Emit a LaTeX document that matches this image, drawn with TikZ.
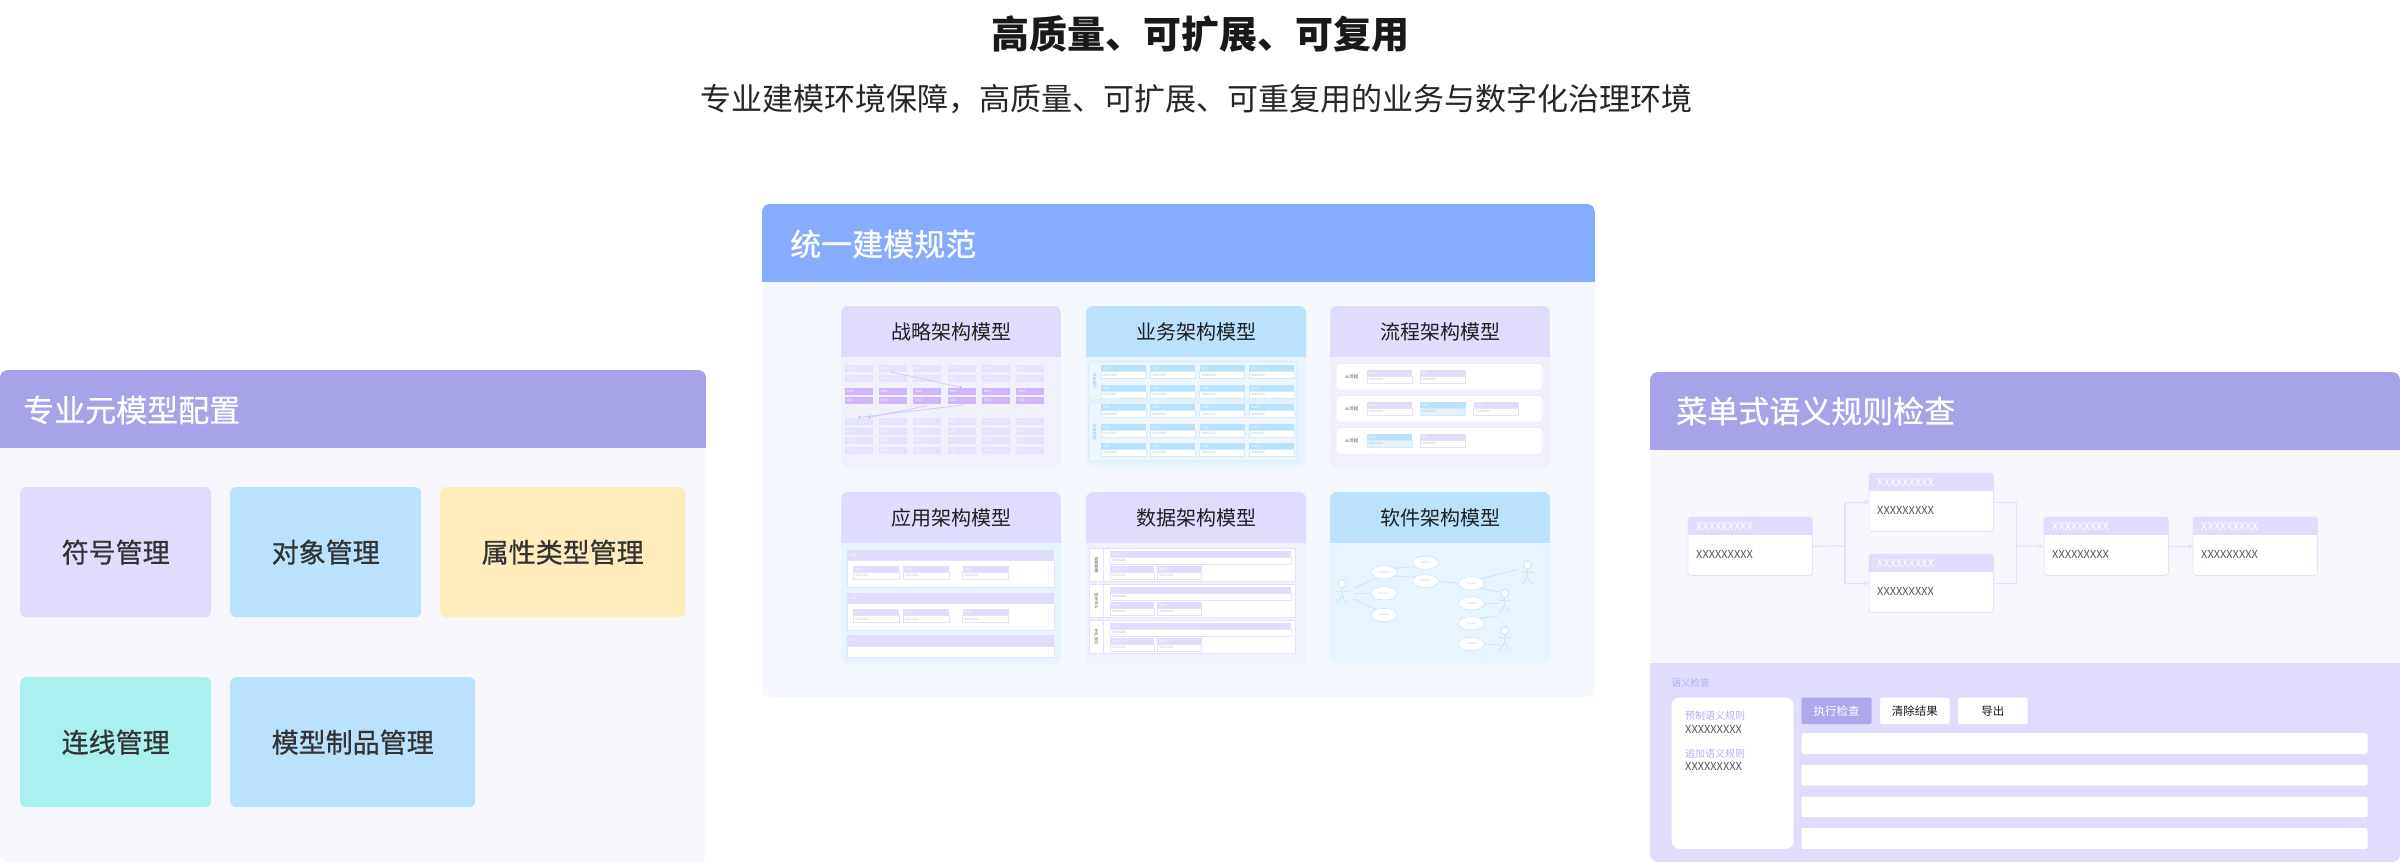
\documentclass[tikz,border=0pt]{standalone}
\usepackage{fontspec}
\setmainfont{Noto Sans CJK SC}
\newfontfamily\medfont[FakeBold=0.7]{Noto Sans CJK SC}
\usetikzlibrary{arrows.meta,shapes.geometric}
\definecolor{hdrpurple}{HTML}{A7A3E9}
\definecolor{hdrblue}{HTML}{86ADFD}
\definecolor{lav}{HTML}{DFDCFE}
\definecolor{skyb}{HTML}{BAE1FE}
\definecolor{yelw}{HTML}{FEEDBA}
\definecolor{mint}{HTML}{A9F1EE}
\definecolor{bodyl}{HTML}{F7F7FD}
\definecolor{bodym}{HTML}{F5F8FE}
\definecolor{cardlav}{HTML}{F1F1FD}
\definecolor{cardblu}{HTML}{E8F4FE}
\definecolor{secblu}{HTML}{EEF7FF}
\definecolor{lightblu}{HTML}{E3F2FE}
\definecolor{edgelav}{HTML}{E4E1FC}
\definecolor{edgeblu}{HTML}{D3EAFD}
\definecolor{cellp}{HTML}{D0B5FA}
\definecolor{celll}{HTML}{E5E2FD}
\definecolor{txtdark}{HTML}{333333}
\definecolor{txtgray}{HTML}{555555}
\definecolor{lbltxt}{HTML}{B3ADF0}
\definecolor{btnp}{HTML}{ADA8EC}
\definecolor{uclinec}{HTML}{CCE7FD}
\definecolor{arrowp}{HTML}{D7C6FA}
\definecolor{dotblu}{HTML}{7FB5F8}
\newcommand\myfs[1]{\fontsize{#1}{#1}\selectfont}
\tikzset{
  hdrtext/.style={font=\medfont\myfs{31}, text=white, anchor=west, inner sep=0pt},
  tile/.style={anchor=north west, rounded corners=6pt, minimum height=130pt, inner sep=0pt, font=\medfont\myfs{27}, text=txtdark},
  cardtitle/.style={font=\myfs{20}, text=black!88, inner sep=0pt},
  tinyt/.style={font=\myfs{3}, inner sep=0pt},
  vlabel/.style={font=\myfs{4}, inner sep=0pt, align=center},
  fbox/.style={rectangle, fill=white, minimum width=124pt, minimum height=58pt, inner sep=0pt, rounded corners=3pt},
  fhdr/.style={anchor=west, font=\myfs{11}, text=white, inner sep=0pt},
  fbody/.style={anchor=west, font=\myfs{11}, text=txtgray, inner sep=0pt},
  fline/.style={draw=edgelav, line width=1.2pt},
  farrow/.style={fline, -{Stealth[length=5pt,width=5pt]}},
  btn/.style={anchor=north west, minimum width=70pt, minimum height=26.7pt, inner sep=0pt, font=\myfs{11.5}, rounded corners=2pt},
  resrow/.style={anchor=north west, fill=white, minimum width=566pt, minimum height=20.7pt, inner sep=0pt, rounded corners=2pt},
  ucase/.style={ellipse, fill=white, draw=uclinec, line width=0.6pt, minimum width=26pt, minimum height=13.3pt, inner sep=0pt, font=\myfs{3}, text=uclinec!70!blue!60!white},
  ucl/.style={draw=uclinec, line width=1pt},
  smallline/.style={draw=arrowp, line width=0.8pt}
}
% card: name, x0, y0, y1, header colour, body colour, title
\newcommand\mcard[7]{%
  \fill[#6, rounded corners=7pt] (#2,#3) rectangle (#2+220,#4);
  \begin{scope}
    \clip[rounded corners=7pt] (#2,#3) rectangle (#2+220,#4);
    \fill[#5] (#2,#3) rectangle (#2+220,#3+51);
  \end{scope}
  \node[cardtitle] (#1) at (#2+110,#3+25.5) {#7};
}
% mini item: x, y, width, header colour, body colour, edge colour
\newcommand\mitem[6]{%
  \fill[#4] (#1,#2) rectangle (#1+#3,#2+6.3);
  \filldraw[fill=#5, draw=#6, line width=0.4pt] (#1,#2+6.3) rectangle (#1+#3,#2+13.3);
  \node[tinyt, text=white, anchor=west] at (#1+2,#2+3.2) {XXXX};
  \node[tinyt, text=#4!75!black!70!white, anchor=west] at (#1+2,#2+9.8) {XXXXXXXX};
}
% actor: x, y of head centre
\newcommand\actor[2]{%
  \draw[ucl, fill=white] (#1,#2) circle (4pt);
  \draw[ucl] (#1,#2+4) -- (#1,#2+12) (#1-6,#2+7) -- (#1+6,#2+7)
    (#1-5,#2+19) -- (#1,#2+12) -- (#1+5,#2+19);
}
% flow box: name, x, y
\newcommand\flowbox[3]{%
  \node[fbox, anchor=north west] (#1) at (#2,#3) {};
  \begin{scope}
    \clip[rounded corners=3pt] (#1.north west) rectangle (#1.south east);
    \fill[lav] (#1.north west) rectangle ([yshift=-18pt]#1.north east);
  \end{scope}
  \draw[edgelav, line width=0.8pt, rounded corners=3pt] (#1.north west) rectangle (#1.south east);
  \node[fhdr] at ([xshift=8pt,yshift=-9pt]#1.north west) {XXXXXXXXX};
  \node[fbody] at ([xshift=8pt,yshift=-37pt]#1.north west) {XXXXXXXXX};
}
\begin{document}
\begin{tikzpicture}[x=1pt, y=-1pt]
\useasboundingbox (0,0) rectangle (2400,863);
\fill[white] (0,0) rectangle (2400,863);

% ---------- titles ----------
\node[font=\myfs{38}\bfseries, text=black!90, inner sep=0pt] (title) at (1200,34) {高质量、可扩展、可复用};
\node[font=\myfs{31}, text=black!85, inner sep=0pt] (subtitle) at (1196,99.5) {专业建模环境保障，高质量、可扩展、可重复用的业务与数字化治理环境};

% ---------- left panel ----------
\fill[bodyl, rounded corners=8pt] (0,370) rectangle (706,862);
\begin{scope}
  \clip[rounded corners=8pt] (0,370) rectangle (706,862);
  \fill[hdrpurple] (0,370) rectangle (706,448);
\end{scope}
\node[hdrtext] (lefthdr) at (23,410) {专业元模型配置};
\node[tile, fill=lav, minimum width=191pt] (fuhao) at (20,487) {符号管理};
\node[tile, fill=skyb, minimum width=191pt] (duixiang) at (230,487) {对象管理};
\node[tile, fill=yelw, minimum width=245pt] (shuxing) at (440,487) {属性类型管理};
\node[tile, fill=mint, minimum width=191pt] (lianxian) at (20,677) {连线管理};
\node[tile, fill=skyb, minimum width=245pt] (zhipin) at (230,677) {模型制品管理};

% ---------- middle panel ----------
\fill[bodym, rounded corners=8pt] (762,204) rectangle (1595,697);
\begin{scope}
  \clip[rounded corners=8pt] (762,204) rectangle (1595,697);
  \fill[hdrblue] (762,204) rectangle (1595,282);
\end{scope}
\node[hdrtext] (midhdr) at (790,244) {统一建模规范};

\mcard{c1}{841}{306}{467}{lav}{cardlav}{战略架构模型}
\mcard{c2}{1086}{306}{467}{skyb}{cardblu}{业务架构模型}
\mcard{c3}{1330}{306}{467}{lav}{cardlav}{流程架构模型}
\mcard{c4}{841}{492}{664}{lav}{cardblu}{应用架构模型}
\mcard{c5}{1086}{492}{664}{lav}{cardlav}{数据架构模型}
\mcard{c6}{1330}{492}{664}{skyb}{cardblu}{软件架构模型}

% card 1: strategy grid
\foreach \yy/\cc in {365.3/celll,374.7/celll,387.7/cellp,397/cellp,418/celll,427.7/celll,437.3/celll,447/celll}{
  \foreach \c in {0,...,5}{
    \fill[\cc] (844.7+\c*34.3,\yy) rectangle ++(28,7);
    \node[tinyt, text=white, anchor=west] at (846.5+\c*34.3,\yy+3.5) {XXXX};
  }
}
\coordinate (s1a) at (890,371.7);
\coordinate (s1b) at (960.7,387.3);
\coordinate (s2a) at (963.3,405);
\coordinate (s2b) at (859.3,417.3);
\coordinate (s3a) at (927.3,405.7);
\coordinate (s3b) at (869.3,417.3);
\draw[smallline] (s1a) -- (s1b);
\draw[smallline] (s2a) -- (s2b);
\draw[smallline] (s3a) -- (s3b);
\fill[dotblu] (s1b) circle (1pt) (s2b) circle (1pt) (s3b) circle (1pt);

% card 2: business grid
\filldraw[fill=secblu, draw=edgeblu, line width=0.6pt, rounded corners=3pt] (1088.7,361.7) rectangle (1297,400);
\filldraw[fill=secblu, draw=edgeblu, line width=0.6pt, rounded corners=3pt] (1088.7,402.7) rectangle (1297,461);
\node[vlabel, text=dotblu] (b2l1) at (1094.5,381) {业\\务\\能\\力};
\node[vlabel, text=dotblu] (b2l2) at (1094.5,432) {业\\务\\流\\程};
\foreach \yy in {365.3,384.7,404.3,423.7,443}{
  \foreach \c in {0,...,3}{
    \mitem{1101+\c*49.3}{\yy}{45}{skyb}{white}{edgeblu}
  }
}

% card 3: process rows
\foreach \yy in {363.3,395.3,427.3}{
  \filldraw[fill=white, draw=edgelav, line width=0.5pt, rounded corners=3pt] (1336,\yy) rectangle (1542,\yy+26.7);
  \node[font=\myfs{4.5}, text=txtgray, inner sep=0pt] at (1351.5,\yy+13.3) {xx流程};
}
\mitem{1367}{370}{45}{lav}{white}{edgelav}
\mitem{1420}{370}{45.5}{lav}{white}{edgelav}
\mitem{1367}{402}{45}{lav}{white}{edgelav}
\mitem{1420}{402}{45.5}{skyb}{lightblu}{edgeblu}
\mitem{1473.5}{402}{45}{lav}{white}{edgelav}
\mitem{1367}{434}{45}{skyb}{lightblu}{edgeblu}
\mitem{1420}{434}{45.5}{lav}{white}{edgelav}

% card 4: application sections
\foreach \ya/\yb/\yc in {550/560/587.7,593.3/603.3/630.7}{
  \fill[lav] (847,\ya) rectangle (1054,\yb);
  \node[tinyt, text=white, anchor=west] at (850,\ya+5) {XXXX};
  \filldraw[fill=white, draw=edgelav, line width=0.5pt] (847,\yb) rectangle (1054,\yc);
  \foreach \xx in {853,903,962.5}{
    \mitem{\xx}{\yb+6}{46}{lav}{white}{edgelav}
  }
}
\fill[lav] (847,635.3) rectangle (1054,646);
\node[tinyt, text=white, anchor=west] at (850,640.6) {XXXX};
\filldraw[fill=white, draw=edgelav, line width=0.5pt] (847,646) rectangle (1054,657.7);

% card 5: data sections
\foreach \yy/\lab in {548.3/{运\\营\\管\\理},584.3/{研\\发\\设\\计},620.3/{生\\产\\运\\行}}{
  \filldraw[fill=white, draw=edgelav, line width=0.5pt] (1089.3,\yy) rectangle (1295.3,\yy+32.7);
  \draw[edgelav, line width=0.5pt] (1103.3,\yy) -- (1103.3,\yy+32.7);
  \node[vlabel, text=txtgray] at (1096.3,\yy+16.3) {\lab};
  \fill[lav] (1110,\yy+2.7) rectangle (1291,\yy+8.7);
  \node[tinyt, text=white, anchor=west] at (1112,\yy+5.7) {XXXX};
  \filldraw[fill=white, draw=edgelav, line width=0.4pt] (1110,\yy+8.7) rectangle (1291,\yy+15.7);
  \node[tinyt, text=lbltxt, anchor=west] at (1112,\yy+12.2) {XXXXXXXX};
  \mitem{1110}{\yy+17.7}{44.3}{lav}{white}{edgelav}
  \mitem{1157.3}{\yy+17.7}{44.3}{lav}{white}{edgelav}
}

% card 6: use case diagram
\node[ucase] (u1) at (1384,572.3) {xxxxxxx};
\node[ucase] (u2) at (1384,593.3) {xxxxxxx};
\node[ucase] (u3) at (1384,615) {xxxxxxx};
\node[ucase] (u4) at (1425.3,562.7) {xxxxxxx};
\node[ucase] (u5) at (1425.3,581) {xxxxxxx};
\node[ucase] (u6) at (1471.3,583.3) {xxxxxxx};
\node[ucase] (u7) at (1471.3,603.3) {xxxxxxx};
\node[ucase] (u8) at (1471.3,623.3) {xxxxxxx};
\node[ucase] (u9) at (1471.3,644) {xxxxxxx};
\actor{1342}{584}
\actor{1527.3}{565}
\actor{1504.7}{593.3}
\actor{1504.7}{630.7}
\coordinate (aL1) at (1354,588);
\coordinate (aL2) at (1354,593.3);
\coordinate (aL3) at (1354,599);
\coordinate (aTR) at (1518,569);
\coordinate (aM1) at (1498.7,591.7);
\coordinate (aM2) at (1498.7,603.3);
\coordinate (aM3) at (1498.7,616);
\coordinate (aB) at (1499.7,644);
\draw[ucl] (aL1) -- (u1.215);
\draw[ucl] (aL2) -- (u2.west);
\draw[ucl] (aL3) -- (u3.145);
\draw[ucl] (u1.20) -- (u4.200);
\draw[ucl] (u1.340) -- (u5.160);
\draw[ucl] (u5.east) -- (u6.west);
\draw[ucl] (u6.25) -- (aTR);
\draw[ucl] (u6.330) -- (aM1);
\draw[ucl] (u7.east) -- (aM2);
\draw[ucl] (u8.30) -- (aM3);
\draw[ucl] (u9.east) -- (aB);

% ---------- right panel ----------
\fill[bodyl, rounded corners=8pt] (1650,372) rectangle (2400,862);
\begin{scope}
  \clip[rounded corners=8pt] (1650,372) rectangle (2400,862);
  \fill[hdrpurple] (1650,372) rectangle (2400,450);
  \fill[lav] (1650,663) rectangle (2400,862);
\end{scope}
\node[hdrtext] (righthdr) at (1676,411) {菜单式语义规则检查};

\flowbox{fa}{1688}{517}
\flowbox{fb}{1869}{473}
\flowbox{fc}{1869}{554}
\flowbox{fd}{2044}{517}
\flowbox{fe}{2193}{517}
\coordinate (splitL) at (1845,546);
\coordinate (joinR) at (2016.5,546);
\draw[fline] (fa.east) -- (splitL);
\draw[farrow] (splitL) |- (fb.west);
\draw[farrow] (splitL) |- (fc.west);
\draw[fline] (fb.east) -| (joinR);
\draw[fline] (fc.east) -| (joinR);
\draw[farrow] (joinR) -- (fd.west);
\draw[farrow] (fd.east) -- (fe.west);

\node[anchor=west, font=\myfs{9.5}, text=lbltxt, inner sep=0pt] (semlbl) at (1671.5,683.3) {语义检查};
\node[anchor=north west, fill=white, rounded corners=8pt, minimum width=122pt, minimum height=151.4pt, inner sep=0pt] (rulebox) at (1671.5,697.3) {};
\node[anchor=west, font=\myfs{10}, text=lbltxt, inner sep=0pt] (r1lbl) at (1685,716) {预制语义规则};
\node[anchor=west, font=\myfs{11}, text=txtgray, inner sep=0pt] (r1val) at (1685,729) {XXXXXXXXX};
\node[anchor=west, font=\myfs{10}, text=lbltxt, inner sep=0pt] (r2lbl) at (1685,753.7) {追加语义规则};
\node[anchor=west, font=\myfs{11}, text=txtgray, inner sep=0pt] (r2val) at (1685,766.7) {XXXXXXXXX};

\node[btn, fill=btnp, text=white] (bexec) at (1801.3,697.3) {执行检查};
\node[btn, fill=white, text=black!90, minimum width=69.3pt] (bclear) at (1880,697.3) {清除结果};
\node[btn, fill=white, text=black!90, minimum width=69.4pt] (bexport) at (1958,697.3) {导出};
\node[resrow] (row1) at (1801.3,733) {};
\node[resrow] (row2) at (1801.3,764.7) {};
\node[resrow] (row3) at (1801.3,796.3) {};
\node[resrow] (row4) at (1801.3,828) {};
\end{tikzpicture}
\end{document}
